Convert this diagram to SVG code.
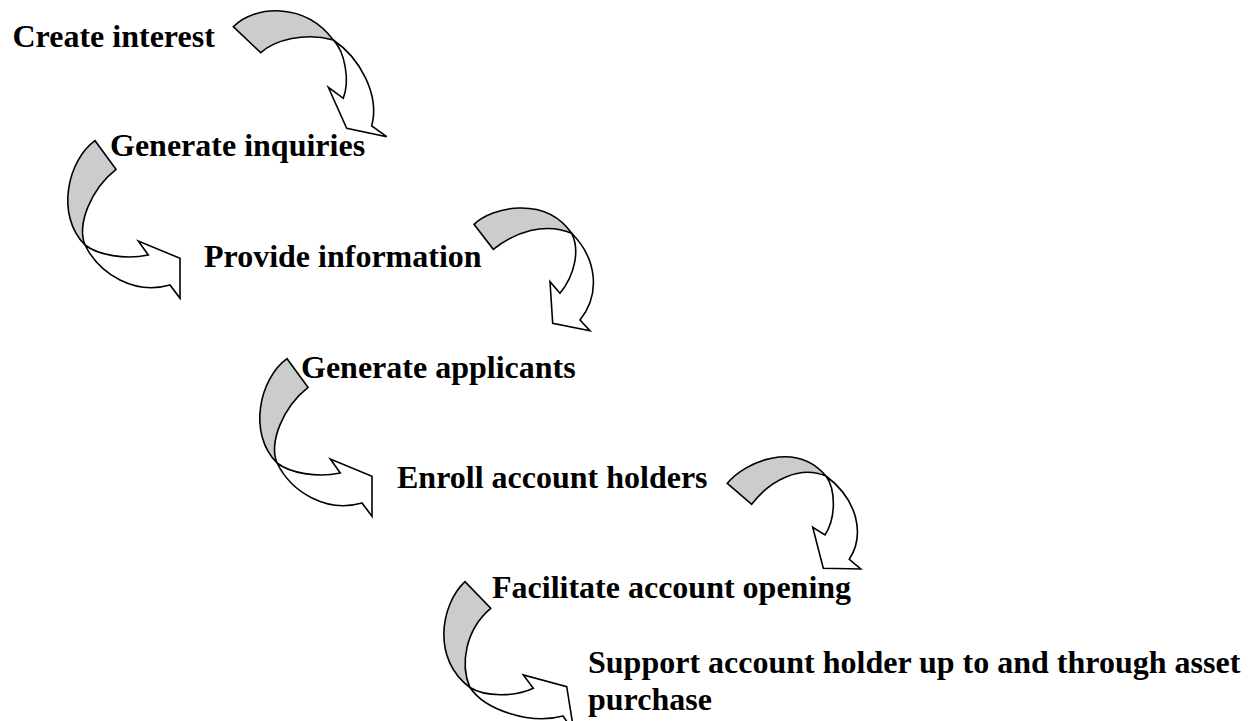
<svg xmlns="http://www.w3.org/2000/svg" width="1250" height="721" viewBox="0 0 1250 721">
<style>
.t{font-family:"Liberation Serif","Times New Roman",serif;font-weight:bold;font-size:32px;fill:#000}
.back{fill:#cccccc;stroke:#000;stroke-width:1.6;stroke-linejoin:miter}
.front{fill:#ffffff;stroke:#000;stroke-width:1.6;stroke-linejoin:miter}
</style>
<rect width="1250" height="721" fill="#ffffff"/>
<g id="connectors">
  <g id="arrow1">
    <path class="back" d="M233.3,26.7 C255,5 305,2 333.3,40 C305,32 275,40 260.7,52.7 Z"/>
    <path class="front" d="M333.3,40 C345,52 350,80 343.3,98.3 L328.3,87.3 L346.7,128.3 L386.7,136.7 L371.7,126 C380,95 360,58 333.3,40 Z"/>
  </g>
  <g id="arrow2">
    <path class="back" d="M95,140.7 C68,160 55,215 85,245 C77,225 90,190 116,169.3 Z"/>
    <path class="front" d="M85,245 C98,255 125,260 148.3,255 L138.3,241 L180,258.3 L180,298.3 L170,285 C135,295 100,275 85,245 Z"/>
  </g>
  <g id="arrow3">
    <path class="back" d="M474,224.3 C492,207 545,195 571.7,233.3 C545,222 515,232 493.3,249.3 Z"/>
    <path class="front" d="M571.7,233.3 C580,250 575,275 560,293.3 L550,281.7 L552.7,323.3 L590,330.7 L580,320 C600,295 598,260 571.7,233.3 Z"/>
  </g>
  <g id="arrow4" transform="translate(192,218)">
    <path class="back" d="M95,140.7 C68,160 55,215 85,245 C77,225 90,190 116,169.3 Z"/>
    <path class="front" d="M85,245 C98,255 125,260 148.3,255 L138.3,241 L180,258.3 L180,298.3 L170,285 C135,295 100,275 85,245 Z"/>
  </g>
  <g id="arrow5">
    <path class="back" d="M727.3,483.3 C745,462 795,440 826,476 C800,465 770,480 751.7,504.3 Z"/>
    <path class="front" d="M826,476 C836,490 836,518 825,535 L812.7,527.3 L823.3,568.3 L860.7,569 L849.3,559.3 C865,535 858,500 826,476 Z"/>
  </g>
  <g id="arrow6">
    <path class="back" d="M465,581.7 C440,605 432,660 470,687.5 C460,665 465,630 490.7,608.3 Z"/>
    <path class="front" d="M470,687.5 C485,697 515,697 533.3,688.3 L523.3,675 L566.7,686.7 L574,732 L563,716 C530,725 485,710 470,687.5 Z"/>
  </g>
</g>
<g id="node1"><text class="t" x="12.5" y="47">Create interest</text></g>
<g id="node2"><text class="t" x="110" y="156">Generate inquiries</text></g>
<g id="node3"><text class="t" x="204" y="267">Provide information</text></g>
<g id="node4"><text class="t" x="301" y="378">Generate applicants</text></g>
<g id="node5"><text class="t" x="397" y="488">Enroll account holders</text></g>
<g id="node6"><text class="t" x="492" y="598">Facilitate account opening</text></g>
<g id="node7"><text class="t" x="588" y="673">Support account holder up to and through asset</text><text class="t" x="588" y="710">purchase</text></g>
</svg>
